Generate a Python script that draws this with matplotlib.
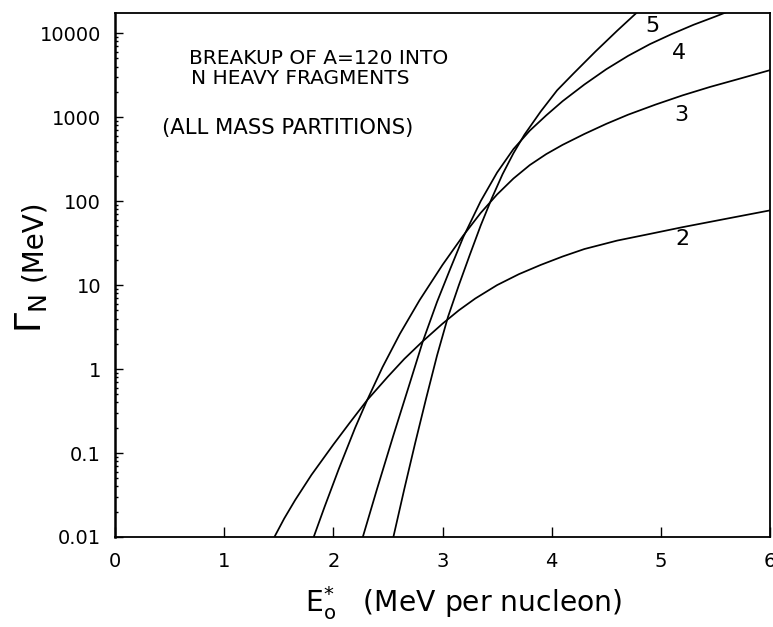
import matplotlib
matplotlib.use("Agg")
import matplotlib.pyplot as plt
from matplotlib.ticker import LogLocator, NullFormatter, NullLocator

# Decay width Gamma_N (MeV) versus excitation energy E*_o (MeV per nucleon)
# for the breakup of A=120 into N heavy fragments
E_n2 = [1.46, 1.55, 1.65, 1.80, 2.00, 2.15, 2.31, 2.50, 2.65, 2.81, 3.00, 3.15,
        3.30, 3.50, 3.70, 3.90, 4.10, 4.30, 4.60, 4.90, 5.20, 5.60, 6.00]
G_n2 = [0.01, 0.0166, 0.0275, 0.055, 0.126, 0.229, 0.427, 0.813, 1.32, 2.09, 3.47,
        5.01, 6.92, 10.0, 13.5, 17.4, 21.9, 26.9, 33.9, 40.7, 49.0, 61.7, 77.6]

E_n3 = [1.82, 1.92, 2.05, 2.20, 2.31, 2.45, 2.61, 2.79, 3.00, 3.19, 3.35, 3.50,
        3.65, 3.80, 3.95, 4.10, 4.30, 4.50, 4.70, 4.95, 5.20, 5.45, 5.70, 6.00]
G_n3 = [0.01, 0.0229, 0.0646, 0.20, 0.427, 1.05, 2.63, 6.61, 17.4, 38.9, 72.4,
        120, 186, 269, 363, 468, 631, 832, 1070, 1410, 1820, 2290, 2820, 3630]

E_n4 = [2.27, 2.40, 2.55, 2.70, 2.82, 2.95, 3.07, 3.19, 3.35, 3.50, 3.65, 3.80,
        3.95, 4.10, 4.30, 4.50, 4.70, 4.90, 5.10, 5.30, 5.50, 5.70]
G_n4 = [0.01, 0.0372, 0.162, 0.676, 2.14, 6.31, 15.5, 37.2, 100, 219, 417, 692,
        1050, 1550, 2450, 3720, 5370, 7410, 9770, 12600, 15800, 20000]

E_n5 = [2.55, 2.65, 2.75, 2.85, 2.95, 3.05, 3.15, 3.25, 3.35, 3.45, 3.55, 3.65,
        3.75, 3.90, 4.05, 4.20, 4.40, 4.60, 4.80]
G_n5 = [0.01, 0.0372, 0.132, 0.447, 1.45, 4.17, 10.0, 22.9, 51.3, 107, 209, 372,
        617, 1170, 2090, 3310, 6030, 10700, 18600]

curve_names = ["2", "3", "4", "5"]
x_ticks = [0, 1, 2, 3, 4, 5, 6]
x_tick_labels = ["0", "1", "2", "3", "4", "5", "6"]
y_ticks = [0.01, 0.1, 1, 10, 100, 1000, 10000]
y_tick_labels = ["0.01", "0.1", "1", "10", "100", "1000", "10000"]

W, H = 773, 627
fig = plt.figure(figsize=(W / 100, H / 100), dpi=100)
ax = fig.add_axes([115 / W, 1 - 537 / H, (770 - 115) / W, (537 - 13) / H])

for E, G in [(E_n2, G_n2), (E_n3, G_n3), (E_n4, G_n4), (E_n5, G_n5)]:
    ax.plot(E, G, color="black", lw=1.25, solid_joinstyle="round")

ax.set_yscale("log")
ax.set_xlim(0, 6)
ax.set_ylim(0.01, 1.74e4)

ax.set_xticks(x_ticks)
ax.set_xticklabels(x_tick_labels)
ax.set_yticks(y_ticks)
ax.set_yticklabels(y_tick_labels)
ax.yaxis.set_minor_locator(LogLocator(base=10, subs=range(2, 10), numticks=20))
ax.yaxis.set_minor_formatter(NullFormatter())
ax.xaxis.set_minor_locator(NullLocator())

ax.tick_params(axis="both", which="major", direction="in", labelsize=14,
               top=False, right=False, width=1.0)
ax.tick_params(axis="x", which="major", length=7, pad=11)
ax.tick_params(axis="y", which="major", length=6, pad=10)
ax.tick_params(axis="y", which="minor", direction="in", length=2.5, width=1.0, right=False)

for s in ax.spines.values():
    s.set_linewidth(1.3)
ax.spines["left"].set_linewidth(1.8)

# curve labels (number of fragments N)
label_pos = {"2": (682, 239), "3": (681, 115), "4": (679, 53), "5": (652, 26)}
for name in curve_names:
    px, py = label_pos[name]
    fig.text(px / W, 1 - py / H, name, fontsize=16, ha="center", va="center")

fig.text(189 / W, 1 - 63.5 / H, "BREAKUP OF A=120 INTO", fontsize=14.5,
         ha="left", va="baseline")
fig.text(191 / W, 1 - 69 / H, "N HEAVY FRAGMENTS", fontsize=14.5,
         ha="left", va="top")
fig.text(162 / W, 1 - 128 / H, "(ALL MASS PARTITIONS)", fontsize=15.2, ha="left", va="center")

fig.text(305 / W, 1 - 603 / H,
         r"$\mathrm{E}_{\mathrm{o}}^{*}$   (MeV per nucleon)",
         fontsize=20.3, ha="left", va="center")

# y-axis label: large Gamma_N followed by the unit
fig.text(41 / W, 1 - 314 / H, r"$\Gamma_{\mathrm{N}}$", fontsize=26, rotation=90,
         rotation_mode="anchor", ha="center", va="baseline")
fig.text(41 / W, 1 - 240 / H, "(MeV)", fontsize=20, rotation=90,
         rotation_mode="anchor", ha="center", va="baseline")

fig.savefig("out.png", dpi=100)
